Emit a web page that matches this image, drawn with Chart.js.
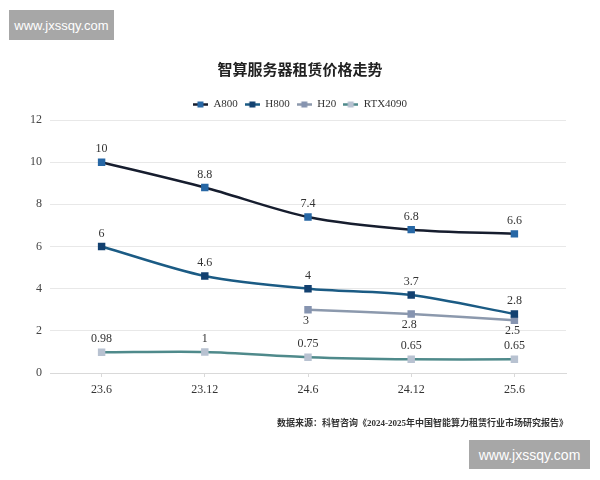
<!DOCTYPE html>
<html>
<head>
<meta charset="utf-8">
<script src="https://cdn.jsdelivr.net/npm/chart.js@4/dist/chart.umd.min.js"></script>
<style>
  html, body { margin: 0; padding: 0; background: #fff; }
  #wrap { position: relative; width: 600px; height: 480px; }
  .mark {
    position: absolute; background: #a7a7a7; color: #fff;
    font: 13px "Liberation Sans", Arial, sans-serif;
    display: flex; align-items: center; justify-content: center;
  }
</style>
</head>
<body>
<div id="wrap">
  <canvas id="chart" width="600" height="480"></canvas>
  <div class="mark" style="left:9px;top:10px;width:105px;height:30px;">www.jxssqy.com</div>
  <div class="mark" style="left:469px;top:440px;width:121px;height:29px;font-size:14px;">www.jxssqy.com</div>
</div>
<script>
// Data
const periods = ['23.6', '23.12', '24.6', '24.12', '25.6'];
const a800 = [10, 8.8, 7.4, 6.8, 6.6];
const h800 = [6, 4.6, 4, 3.7, 2.8];
const h20 = [null, null, 3, 2.8, 2.5];
const rtx4090 = [0.98, 1, 0.75, 0.65, 0.65];
const yTicks = [0, 2, 4, 6, 8, 10, 12];

const serif = '"Liberation Serif", "DejaVu Serif", "Noto Sans CJK SC", serif';
const source = '数据来源：科智咨询《2024-2025年中国智能算力租赁行业市场研究报告》';

// Legend icon: short line with a square in the middle
function legendIcon(lineColor, markColor) {
    const c = document.createElement('canvas');
    c.width = 15; c.height = 7;
    const ctx = c.getContext('2d');
    ctx.strokeStyle = lineColor;
    ctx.lineWidth = 2.5;
    ctx.beginPath();
    ctx.moveTo(0, 3.5); ctx.lineTo(15, 3.5);
    ctx.stroke();
    ctx.fillStyle = markColor;
    ctx.fillRect(4.5, 0.5, 6, 6);
    return c;
}

function series(label, data, lineColor, markColor, below) {
    return {
        label: label,
        data: data,
        borderColor: lineColor,
        backgroundColor: markColor,
        pointBackgroundColor: markColor,
        pointBorderColor: markColor,
        pointStyle: 'rect',
        pointRadius: 3.5,
        borderWidth: 2.5,
        tension: 0.3,
        spanGaps: false,
        labelBelow: below,
        icon: legendIcon(lineColor, markColor)
    };
}

// Value labels above / below each point, plus the source note
const valueLabels = {
    id: 'valueLabels',
    afterLayout(chart) {
        // centre title and legend on the whole page, not on the plot
        [chart.titleBlock, chart.legend].forEach(box => {
            if (box) { box.left += 17; box.right += 17; }
        });
    },
    afterDatasetsDraw(chart) {
        const ctx = chart.ctx;
        ctx.save();
        ctx.font = '12px ' + serif;
        ctx.fillStyle = '#333';
        ctx.textAlign = 'center';
        chart.data.datasets.forEach((ds, i) => {
            const meta = chart.getDatasetMeta(i);
            meta.data.forEach((pt, j) => {
                const v = ds.data[j];
                if (v === null || v === undefined) return;
                if (ds.labelBelow) {
                    ctx.textBaseline = 'top';
                    ctx.fillText(String(v), pt.x - 2, pt.y + 5);
                } else {
                    ctx.textBaseline = 'bottom';
                    ctx.fillText(String(v), pt.x, pt.y - 7);
                }
            });
        });
        ctx.restore();
    },
    afterDraw(chart) {
        const ctx = chart.ctx;
        ctx.save();
        ctx.font = 'bold 9px ' + serif;
        ctx.fillStyle = '#333';
        ctx.textAlign = 'right';
        ctx.textBaseline = 'middle';
        ctx.fillText(source, 568, 424);
        ctx.restore();
    }
};

const ctx = document.getElementById('chart');
new Chart(ctx, {
    type: 'line',
    data: {
        labels: periods,
        datasets: [
            series('A800', a800, '#161d2e', '#2767a5', false),
            series('H800', h800, '#1b5b84', '#134170', false),
            series('H20', h20, '#8c99ad', '#8694b0', true),
            series('RTX4090', rtx4090, '#4f8a8b', '#b8c2d1', false)
        ]
    },
    options: {
        responsive: false,
        animation: false,
        layout: { padding: { left: 0, right: 34, top: 0, bottom: 72 } },
        plugins: {
            title: {
                display: true,
                text: '智算服务器租赁价格走势',
                color: '#222',
                font: { family: serif, size: 15, weight: 'bold' },
                padding: { top: 62, bottom: 12 }
            },
            legend: {
                position: 'top',
                labels: {
                    usePointStyle: true,
                    pointStyleWidth: 15,
                    boxHeight: 7,
                    padding: 7,
                    color: '#333',
                    font: { family: serif, size: 11 },
                    generateLabels(chart) {
                        const items = Chart.defaults.plugins.legend.labels.generateLabels(chart);
                        items.forEach(it => {
                            it.pointStyle = chart.data.datasets[it.datasetIndex].icon;
                        });
                        return items;
                    }
                }
            },
            tooltip: { enabled: false }
        },
        scales: {
            x: {
                offset: true,
                grid: {
                    display: true,
                    drawOnChartArea: false,
                    drawTicks: true,
                    tickLength: 4,
                    color: '#d9d9d9'
                },
                border: { display: true, color: '#d9d9d9' },
                ticks: {
                    padding: 6,
                    color: '#333',
                    font: { family: serif, size: 12 }
                },
                afterFit(scale) { scale.height = 35; }
            },
            y: {
                min: 0,
                max: 12,
                afterBuildTicks(scale) {
                    scale.ticks = yTicks.map(v => ({ value: v }));
                },
                grid: { color: '#e8e8e8', drawTicks: false },
                border: { display: false },
                ticks: {
                    padding: 8,
                    color: '#444',
                    font: { family: serif, size: 12 }
                },
                afterFit(scale) { scale.width = 50; }
            }
        }
    },
    plugins: [valueLabels]
});
</script>
</body>
</html>
